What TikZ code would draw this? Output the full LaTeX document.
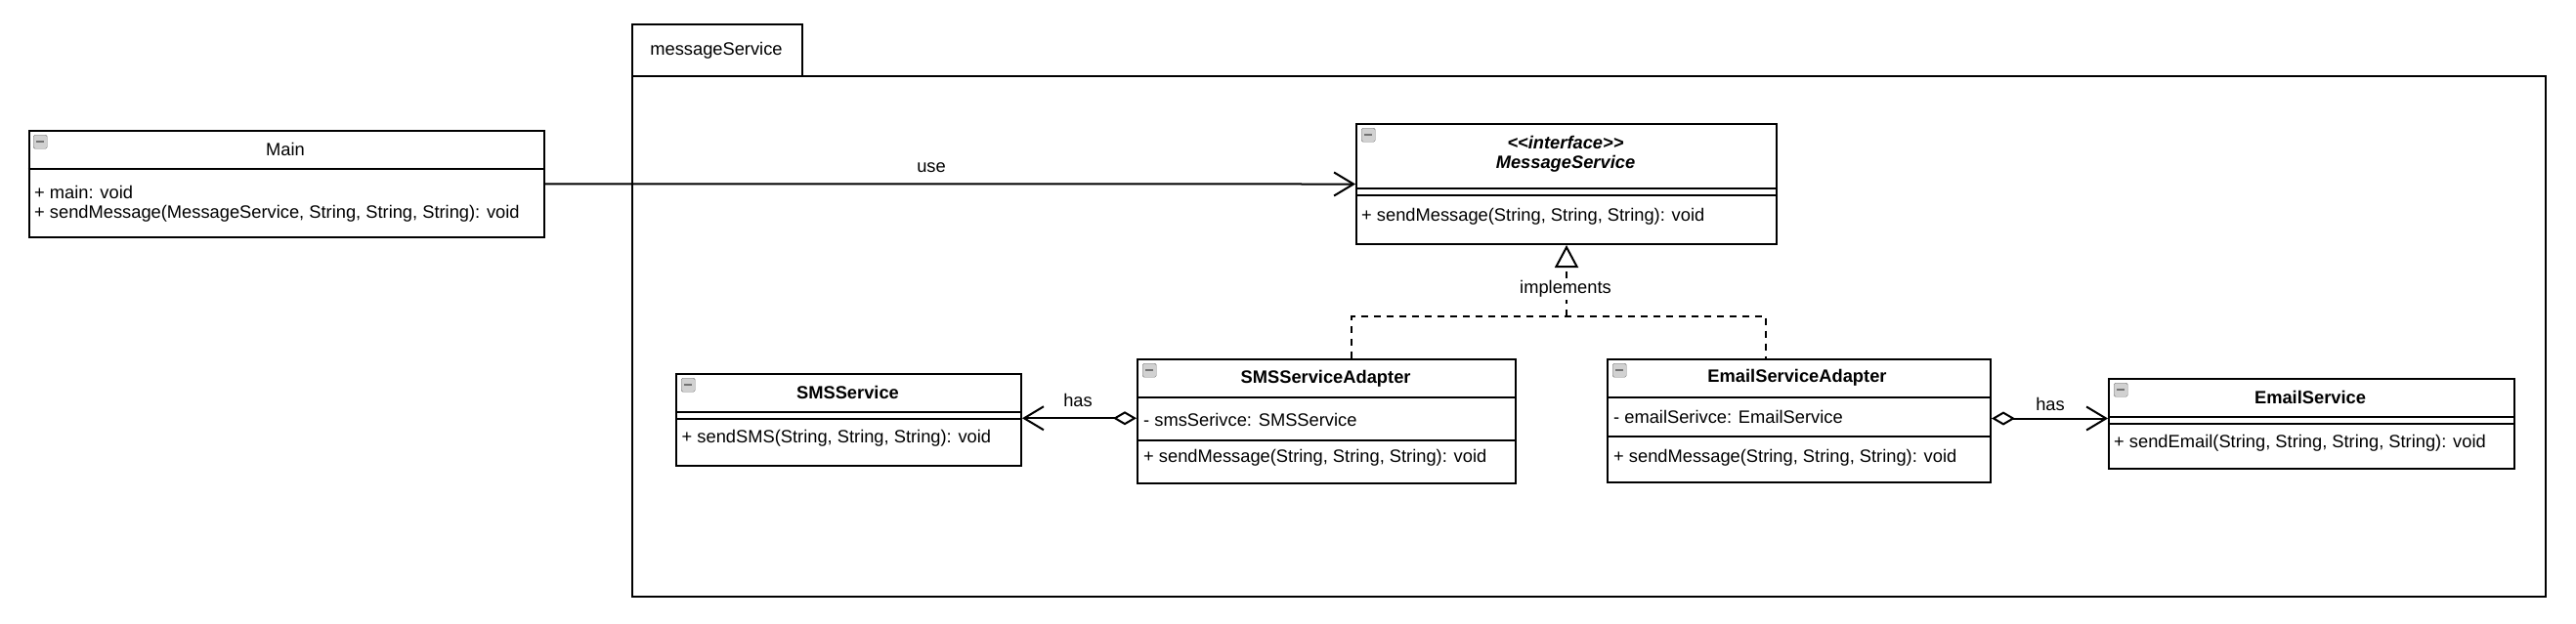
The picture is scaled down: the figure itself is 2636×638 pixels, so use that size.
\documentclass[tikz,border=0pt]{standalone}
\usepackage{fontspec}
\setmainfont{Liberation Sans}
\usetikzlibrary{arrows.meta}
\newcommand\fs{\fontsize{18.3}{22}\selectfont}
\tikzset{
  box/.style={draw, line width=2pt, anchor=north west, inner sep=0pt},
  sep/.style={line width=2pt},
  title/.style={font=\fs\bfseries, inner sep=0pt},
  plain/.style={font=\fs, inner sep=0pt},
  member/.style={font=\fs, inner sep=0pt, anchor=west},
  icon/.style={draw=black!55, fill=black!18, minimum size=14pt, inner sep=0pt, rounded corners=1.5pt, anchor=north west,
    path picture={\draw[line width=2pt] ([xshift=3pt]path picture bounding box.west) -- ([xshift=-3pt]path picture bounding box.east);}},
  conn/.style={line width=2pt},
  openarrow/.style={conn, -{Straight Barb[length=20pt,width=24pt,line width=2pt]}},
  hasarrow/.style={conn, {Diamond[open,length=24pt,width=14pt,line width=2pt]}-{Straight Barb[length=20pt,width=24pt,line width=2pt]}},
  dashline/.style={line width=2pt, dash pattern=on 7pt off 6pt},
}
\begin{document}
\begin{tikzpicture}[x=1pt,y=-1pt]
\path[use as bounding box] (0,0) rectangle (2636,638);

% package
\node[box, minimum width=174.5pt, minimum height=53.8pt] (pkgtab) at (645.5,23.5) {};
\node[box, minimum width=1958.5pt, minimum height=532.7pt] (pkg) at (645.5,77.3) {};
\node[plain] (pkglabel) at (733,52) {messageService};

% Main
\node[box, minimum width=527.4pt, minimum height=109.2pt] (main) at (28.6,132.8) {};
\draw[sep] (28.6,173) -- (556,173);
\node[icon] (i1) at (34,138) {};
\node[plain] (maint) at (292,153) {Main};
\node[member] (m1) at (35,196.7) {+ main: void};
\node[member] (m2) at (35,218.5) {+ sendMessage(MessageService, String, String, String): void};

% Interface
\node[box, minimum width=430pt, minimum height=123pt] (iface) at (1387,126) {};
\draw[sep] (1387,193) -- (1817,193);
\draw[sep] (1387,200) -- (1817,200);
\node[icon] (i2) at (1393,131) {};
\node[font=\fs\bfseries\itshape, inner sep=0pt] (ift1) at (1602,146) {<\kern0pt<interface>\kern0pt>};
\node[font=\fs\bfseries\itshape, inner sep=0pt] (ift2) at (1602,168) {MessageService};
\node[member] (ifm) at (1393,222) {+ sendMessage(String, String, String): void};

% SMSService
\node[box, minimum width=353pt, minimum height=94pt] (sms) at (691,381.6) {};
\draw[sep] (691,422) -- (1044,422);
\draw[sep] (691,428.6) -- (1044,428.6);
\node[icon] (i3) at (697,387) {};
\node[title] (smst) at (867.5,402) {SMSService};
\node[member] (smsm) at (697.5,449) {+ sendSMS(String, String, String): void};

% SMSServiceAdapter
\node[box, minimum width=387pt, minimum height=127.5pt] (smsad) at (1163,366.5) {};
\draw[sep] (1163,407) -- (1550,407);
\draw[sep] (1163,450.5) -- (1550,450.5);
\node[icon] (i4) at (1169,372) {};
\node[title] (smsadt) at (1356.6,388) {SMSServiceAdapter};
\node[member] (smsada) at (1170,430) {- smsSerivce: SMSService};
\node[member] (smsadm) at (1170,469) {+ sendMessage(String, String, String): void};

% EmailServiceAdapter
\node[box, minimum width=392pt, minimum height=126pt] (emad) at (1644,366.5) {};
\draw[sep] (1644,407) -- (2036,407);
\draw[sep] (1644,447) -- (2036,447);
\node[icon] (i5) at (1650,372) {};
\node[title] (emadt) at (1839,387) {EmailServiceAdapter};
\node[member] (emada) at (1651,427) {- emailSerivce: EmailService};
\node[member] (emadm) at (1651,469) {+ sendMessage(String, String, String): void};

% EmailService
\node[box, minimum width=415pt, minimum height=92.4pt] (email) at (2157,386.6) {};
\draw[sep] (2157,427) -- (2572,427);
\draw[sep] (2157,433.7) -- (2572,433.7);
\node[icon] (i6) at (2163,392) {};
\node[title] (emailt) at (2364,407) {EmailService};
\node[member] (emailm) at (2163,454) {+ sendEmail(String, String, String, String): void};

% use
\draw[openarrow] (main.east) -- (iface.west);
\node[plain] (uselbl) at (953,171.5) {use};

% has
\draw[hasarrow] ([yshift=3pt]smsad.west) -- ([yshift=3pt]smsad.west -| sms.east);
\node[plain] (has1) at (1103,410) {has};
\draw[hasarrow] ([yshift=2pt]emad.east) -- ([yshift=2pt]emad.east -| email.west);
\node[plain] (has2) at (2098,413.5) {has};

% implements
\coordinate (j1) at (1383,324);
\coordinate (j2) at (1807,324);
\draw[dashline] (smsad.north -| j1) -- (j1) -- (j2) -- (emad.north -| j2);
\draw[dashline, -{Triangle[open,length=23pt,width=24pt,line width=2pt]}] (iface.south |- j1) -- (iface.south);
\node[plain, fill=white, inner sep=2pt] (impl) at (1602,296) {implements};
\end{tikzpicture}
\end{document}
